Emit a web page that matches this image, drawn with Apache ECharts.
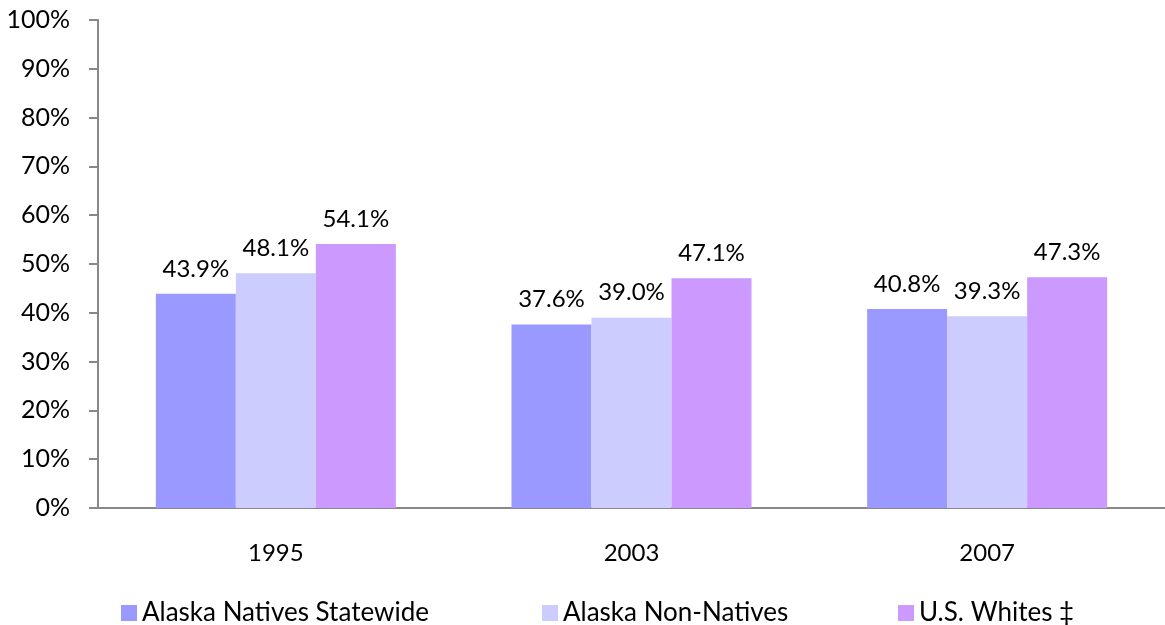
<!DOCTYPE html>
<html>
<head>
<meta charset="utf-8">
<script src="https://cdn.jsdelivr.net/npm/echarts@6/dist/echarts.min.js"></script>
<style>
  html, body { margin: 0; padding: 0; background: #fff; }
  #chart { width: 1165px; height: 625px; }
</style>
</head>
<body>
<div id="chart"></div>
<script>
  var years = ['1995', '2003', '2007']
  var seriesNames = ['Alaska Natives Statewide', 'Alaska Non-Natives', 'U.S. Whites ‡']
  var nativesStatewide = [43.9, 37.6, 40.8]
  var nonNatives = [48.1, 39.0, 39.3]
  var usWhites = [54.1, 47.1, 47.3]
  var yTicks = [0, 10, 20, 30, 40, 50, 60, 70, 80, 90, 100]

  var colors = ['#9999ff', '#ccccff', '#cc99ff']
  var font = 'Lato, "Open Sans", sans-serif'
  // legend entries are spread out like the original, one block each
  var legendLefts = [116, 537, 893]

  var chart = echarts.init(document.getElementById('chart'))

  function makeSeries(name, values, color) {
    return {
      name: name,
      type: 'bar',
      data: values,
      barWidth: 80,
      barGap: '0%',
      itemStyle: { color: color },
      label: {
        show: true,
        position: 'top',
        distance: 13,
        color: '#000',
        fontSize: 24,
        fontFamily: font,
        formatter: function (p) {
          return p.value.toFixed(1) + '%'
        },
      },
    }
  }

  function makeLegend(i) {
    return {
      top: 595,
      left: legendLefts[i],
      itemWidth: 16,
      itemHeight: 16,
      icon: 'rect',
      textStyle: { fontSize: 26, color: '#000', fontFamily: font },
      data: [seriesNames[i]],
    }
  }

  chart.setOption({
    animation: false,
    textStyle: { fontFamily: font },
    // plot runs a little past the right edge, as in the original
    grid: { left: 98, width: 1073, top: 20, height: 488, containLabel: false },
    legend: [makeLegend(0), makeLegend(1), makeLegend(2)],
    xAxis: {
      type: 'category',
      data: years,
      axisLine: { lineStyle: { color: '#888', width: 2 } },
      axisTick: { show: false },
      axisLabel: { color: '#000', fontSize: 24, margin: 33, fontFamily: font },
    },
    yAxis: {
      type: 'value',
      min: yTicks[0],
      max: yTicks[yTicks.length - 1],
      interval: 10,
      axisLine: { show: true, lineStyle: { color: '#888', width: 2 } },
      axisTick: { show: true, length: 9, lineStyle: { color: '#888', width: 2 } },
      splitLine: { show: false },
      axisLabel: {
        color: '#000',
        fontSize: 25,
        margin: 28,
        fontFamily: font,
        formatter: '{value}%',
      },
    },
    series: [
      makeSeries(seriesNames[0], nativesStatewide, colors[0]),
      makeSeries(seriesNames[1], nonNatives, colors[1]),
      makeSeries(seriesNames[2], usWhites, colors[2]),
    ],
  })
</script>
</body>
</html>
